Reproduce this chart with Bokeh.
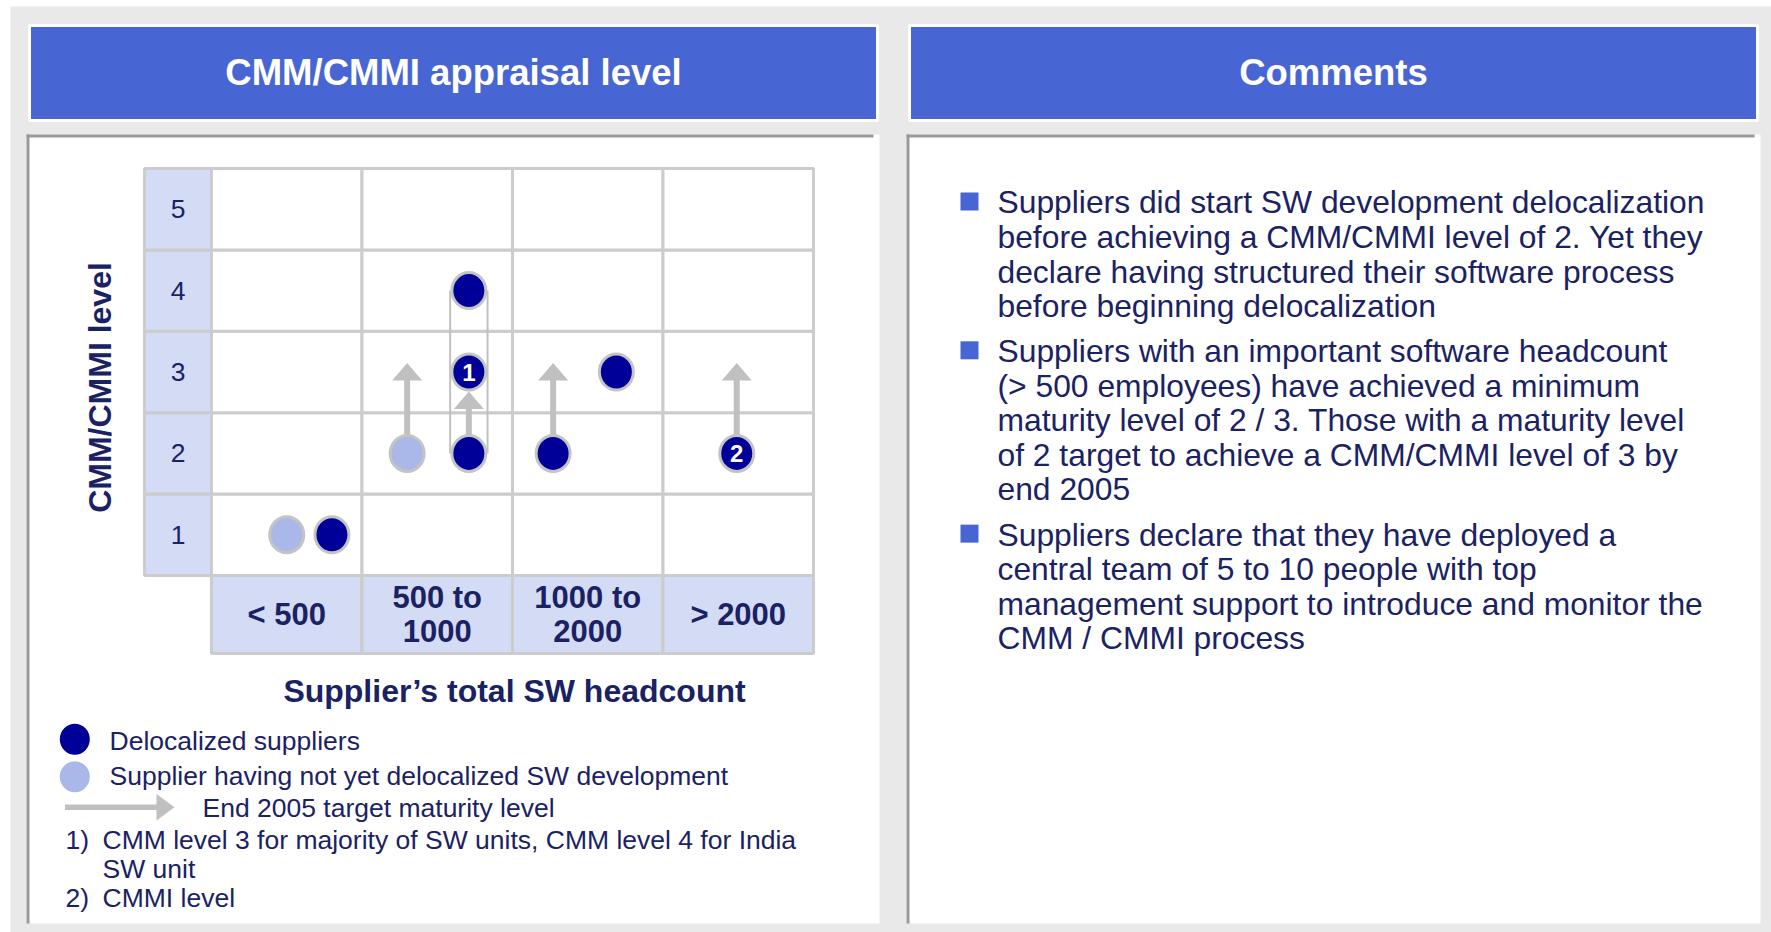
import numpy as np
from bokeh.plotting import figure
from bokeh.models import Range1d
from bokeh.core.properties import value
from bokeh.embed import file_html
from bokeh.resources import INLINE

# ---------------- data ----------------
panel_titles = ["CMM/CMMI appraisal level", "Comments"]
headcount_bins = ["< 500", "500 to\n1000", "1000 to\n2000", "> 2000"]
maturity_levels = [1, 2, 3, 4, 5]
x_title = "Supplier\u2019s total SW headcount"
y_title = "CMM/CMMI level"

# suppliers (bin index, maturity level, delocalized?, footnote, slot inside the cell)
sup_bin = [0, 0, 1, 1, 1, 1, 2, 2, 3]
sup_level = [1, 1, 2, 2, 3, 4, 2, 3, 2]
sup_deloc = [False, True, False, True, True, True, True, True, True]
sup_note = ["", "", "", "", "1", "", "", "", "2"]
sup_slot = [0.50, 0.80, 0.30, 0.71, 0.71, 0.71, 0.27, 0.69, 0.49]

# end-2005 targets
target_bin = [1, 1, 2, 3]
target_slot = [0.30, 0.71, 0.27, 0.49]
target_from = [2, 2, 2, 2]
target_to = [3, 3, 3, 3]

# supplier with several units (enclosed)
group_bin = [1]
group_slot = [0.71]
group_from = [2]
group_to = [4]

legend_labels = ["Delocalized suppliers",
                 "Supplier having not yet delocalized SW development",
                 "End 2005 target maturity level"]
footnote_marks = ["1)", "2)"]
footnote_lines = [["CMM level 3 for majority of SW units, CMM level 4 for India", "SW unit"],
                  ["CMMI level"]]

comments = [
    ["Suppliers did start SW development delocalization",
     "before achieving a CMM/CMMI level of 2. Yet they",
     "declare having structured their software process",
     "before beginning delocalization"],
    ["Suppliers with an important software headcount",
     "(> 500 employees) have achieved a minimum",
     "maturity level of 2 / 3. Those with a maturity level",
     "of 2 target to achieve a CMM/CMMI level of 3 by",
     "end 2005"],
    ["Suppliers declare that they have deployed a",
     "central team of 5 to 10 people with top",
     "management support to introduce and monitor the",
     "CMM / CMMI process"],
]

# ---------------- styles ----------------
FONT = value("Liberation Sans")
NAVY = "#1b2264"
BLUE = "#4865d4"
DARK = "#000099"
LIGHT = "#a9b8e8"
CELL = "#d4dbf5"
GRIDC = "#cccccc"
ARROW = "#c0c0c0"
BG = "#e9e9e9"

W, H = 1771, 932
OX, OY = 0, 0
CAP = 0.358  # cap-height centre, in em, above the baseline


def X(v):
    return v - OX


def Y(v):
    return v - OY


def mid(baseline, fs):
    return Y(baseline - CAP * fs)


p = figure(width=W, height=H, x_range=Range1d(0, W), y_range=Range1d(H, 0),
           output_backend="svg", toolbar_location=None,
           x_axis_location=None, y_axis_location=None, min_border=0,
           outline_line_color=None, background_fill_color="white",
           border_fill_color="white")
p.grid.visible = False

# grid (chart) coordinate system
GX0, COLW = 211.0, 150.5
GY0, ROWH = 575.0, 81.4
p.extra_x_ranges = {"g": Range1d((OX - GX0) / COLW, (OX + W - GX0) / COLW)}
p.extra_y_ranges = {"g": Range1d(0.5 - (OY + H - GY0) / ROWH, 0.5 + (GY0 - OY) / ROWH)}
G = dict(x_range_name="g", y_range_name="g")

# ---------------- page decoration ----------------
p.quad(left=[X(10)], right=[X(1771)], top=[Y(6)], bottom=[Y(932)], fill_color=BG, line_color=None)
hdr_l = [29, 909]
hdr_r = [877, 1757]
p.quad(left=[X(v) for v in hdr_l], right=[X(v) for v in hdr_r], top=[Y(25)] * 2, bottom=[Y(120)] * 2,
       fill_color=BLUE, line_color="white", line_width=3)
hx = [(a + b) / 2 for a, b in zip(hdr_l, hdr_r)]
p.text(x=[X(v) for v in hx], y=[mid(85.5, 36.5)] * 2, text=panel_titles, text_font=FONT,
       text_font_size="36.5px", text_font_style="bold", text_color="white",
       text_align="center", text_baseline="middle")

box_l = [26, 906]
box_r = [879, 1760]
p.quad(left=[X(v) for v in box_l], right=[X(v) for v in box_r], top=[Y(134)] * 2, bottom=[Y(923)] * 2,
       fill_color="white", line_color=None)
p.segment(x0=[X(v) for v in box_l], y0=[Y(135.5)] * 2, x1=[X(v - 6) for v in box_r], y1=[Y(135.5)] * 2,
          line_color="#999999", line_width=3)
p.segment(x0=[X(v + 1.5) for v in box_l], y0=[Y(134)] * 2, x1=[X(v + 1.5) for v in box_l], y1=[Y(923)] * 2,
          line_color="#999999", line_width=3)

# ---------------- grid ----------------
ncol = len(headcount_bins)
cl, cr, cb, ct = [], [], [], []
for c in range(ncol):
    for L in maturity_levels:
        cl.append(c); cr.append(c + 1); cb.append(L - 0.5); ct.append(L + 0.5)
p.quad(left=cl, right=cr, bottom=cb, top=ct, fill_color="white", line_color=GRIDC, line_width=3, **G)

LABW = 67.0 / COLW
XROW = 78.0 / ROWH
p.quad(left=[-LABW] * len(maturity_levels), right=[0] * len(maturity_levels),
       bottom=[L - 0.5 for L in maturity_levels], top=[L + 0.5 for L in maturity_levels],
       fill_color=CELL, line_color=GRIDC, line_width=3, **G)
p.quad(left=list(range(ncol)), right=[c + 1 for c in range(ncol)],
       bottom=[0.5 - XROW] * ncol, top=[0.5] * ncol,
       fill_color=CELL, line_color=GRIDC, line_width=3, **G)

p.text(x=[-LABW / 2] * len(maturity_levels), y=maturity_levels, text=[str(L) for L in maturity_levels],
       text_font=FONT, text_font_size="26.5px", text_color=NAVY, text_align="center",
       text_baseline="middle", **G)

xl_x, xl_t, xl_off = [], [], []
for c, lab in enumerate(headcount_bins):
    lines = lab.split("\n")
    n = len(lines)
    for i, ln in enumerate(lines):
        xl_x.append(c + 0.5); xl_t.append(ln); xl_off.append(11 - CAP * 31 + (i - (n - 1) / 2) * 33.4)
p.text(x=xl_x, y=[0.5 - XROW / 2] * len(xl_x), text=xl_t, y_offset=xl_off,
       text_font=FONT, text_font_size="31px", text_font_style="bold", text_color=NAVY,
       text_align="center", text_baseline="middle", **G)

# axis titles
p.text(x=[X(514)], y=[mid(701.5, 32)], text=[x_title], text_font=FONT, text_font_size="32px",
       text_font_style="bold", text_color=NAVY, text_align="center", text_baseline="middle")
p.text(x=[X(99.5)], y=[Y(387)], text=[y_title], angle=np.pi / 2, text_font=FONT,
       text_font_size="32px", text_font_style="bold", text_color=NAVY, text_align="center",
       text_baseline="middle")

# ---------------- marks ----------------
sx = [b + s for b, s in zip(sup_bin, sup_slot)]
# enclosure of multi-unit supplier
for b, s, f, t in zip(group_bin, group_slot, group_from, group_to):
    gx = b + s
    hw = 18.7 / COLW
    p.segment(x0=[gx - hw, gx + hw], y0=[f, f], x1=[gx - hw, gx + hw], y1=[t, t],
              line_color=ARROW, line_width=2, **G)

# target arrows
RAD = 19.5 / ROWH
HEADL = 17.5 / ROWH
HEADW = 15.0 / COLW
ax, ay0, ay1, hxs, hys = [], [], [], [], []
for b, s, f, t in zip(target_bin, target_slot, target_from, target_to):
    x = b + s
    occupied = any(abs(xx - x) < 1e-6 and lv == t for xx, lv in zip(sx, sup_level))
    tip = t - RAD if occupied else t + 9.0 / ROWH
    base = tip - HEADL
    ax.append(x); ay0.append(f); ay1.append(base + 1.0 / ROWH)
    hxs.append([x - HEADW, x, x + HEADW]); hys.append([base, tip, base])
p.segment(x0=ax, y0=ay0, x1=ax, y1=ay1, line_color=ARROW, line_width=6, **G)
p.patches(xs=hxs, ys=hys, fill_color=ARROW, line_color=None, **G)

# supplier circles
p.ellipse(x=sx, y=sup_level, width=34, height=36, width_units="screen", height_units="screen",
          fill_color=[DARK if d else LIGHT for d in sup_deloc], line_color="#c4c4c4", line_width=3, **G)
nx = [x for x, n in zip(sx, sup_note) if n]
ny = [L for L, n in zip(sup_level, sup_note) if n]
nt = [n for n in sup_note if n]
p.text(x=nx, y=ny, text=nt, text_font=FONT, text_font_size="24px", text_font_style="bold",
       text_color="white", text_align="center", text_baseline="middle", **G)

# ---------------- legend ----------------
p.ellipse(x=[X(74.3)] * 2, y=[Y(738.7), Y(776.3)], width=30, height=31,
          width_units="screen", height_units="screen", fill_color=[DARK, LIGHT], line_color=None)
p.segment(x0=[X(64.5)], y0=[Y(806.7)], x1=[X(157)], y1=[Y(806.7)], line_color=ARROW, line_width=5.5)
p.patches(xs=[[X(156), X(174), X(156)]], ys=[[Y(793.5), Y(806.7), Y(820)]], fill_color=ARROW, line_color=None)
FS = 26.5
p.text(x=[X(109), X(109), X(202)], y=[mid(749.5, FS), mid(785, FS), mid(816.7, FS)], text=legend_labels,
       text_font=FONT, text_font_size="26.5px", text_color=NAVY, text_align="left", text_baseline="middle")

fm_y, fl_x, fl_y, fl_t = [], [], [], []
yb = 849.3
for mark, lines in zip(footnote_marks, footnote_lines):
    fm_y.append(mid(yb, FS))
    for ln in lines:
        fl_x.append(X(102)); fl_y.append(mid(yb, FS)); fl_t.append(ln)
        yb += 28.7
p.text(x=[X(65)] * len(footnote_marks), y=fm_y, text=footnote_marks, text_font=FONT,
       text_font_size="26.5px", text_color=NAVY, text_align="left", text_baseline="middle")
p.text(x=fl_x, y=fl_y, text=fl_t, text_font=FONT, text_font_size="26.5px", text_color=NAVY,
       text_align="left", text_baseline="middle")

# ---------------- comments ----------------
CFS = 31.8
cx, cy, ctext, bx, by = [], [], [], [], []
j = 0
for bi, para in enumerate(comments):
    for li, ln in enumerate(para):
        base = 213.3 + j * 34.55 + bi * 10.6
        if li == 0:
            by.append(Y(base - 12.3)); bx.append(X(969))
        cx.append(X(997)); cy.append(mid(base, CFS)); ctext.append(ln)
        j += 1
p.rect(x=bx, y=by, width=18, height=18, width_units="screen", height_units="screen",
       fill_color=BLUE, line_color=None)
p.text(x=cx, y=cy, text=ctext, text_font=FONT, text_font_size="31.8px", text_color=NAVY,
       text_align="left", text_baseline="middle")

open("out.html", "w").write(file_html(p, INLINE))
